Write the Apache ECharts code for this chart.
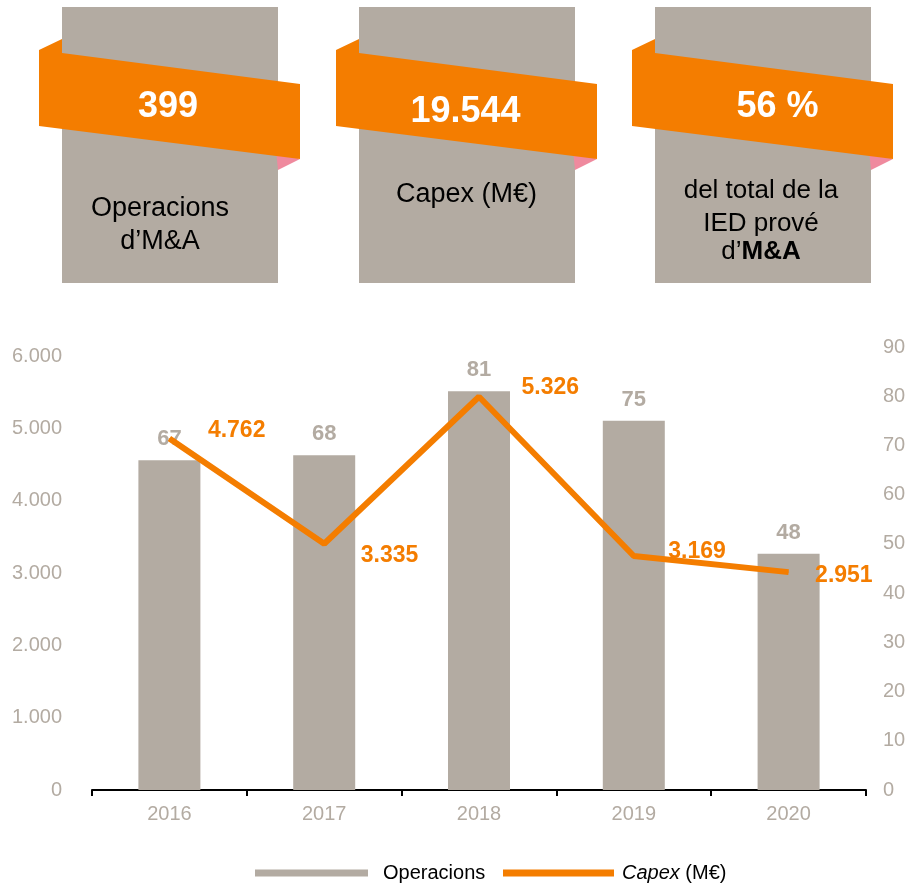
<!DOCTYPE html>
<html>
<head>
<meta charset="utf-8">
<script src="https://cdn.jsdelivr.net/npm/echarts@6/dist/echarts.min.js"></script>
<style>
  html, body { margin: 0; padding: 0; background: #fff; }
  #chart { width: 910px; height: 888px; }
</style>
</head>
<body>
<div id="chart"></div>
<script>
const years = ['2016', '2017', '2018', '2019', '2020'];
const operacions = [67, 68, 81, 75, 48];
const capex = [4762, 3335, 5326, 3169, 2951];
const kpiValues = ['399', '19.544', '56 %'];

// label nudges for the capex values [dx, dy]
const capexLabelOffsets = [[38, -8], [36, 12], [42, -9], [34, -4], [26, 4]];

const GRAY = '#B3ABA2';
const ORANGE = '#F47D00';
const PINK = '#EF8A9E';
const FONT = 'Liberation Sans, Arial, sans-serif';

const fmt = n => String(n).replace(/\B(?=(\d{3})+(?!\d))/g, '.');

// top boxes
const boxLefts = [62, 359, 655];
const kpiPos = [[168, 107], [465.5, 112], [777.5, 107]];
const graphics = [];
boxLefts.forEach((L, i) => {
    graphics.push({ type: 'rect', shape: { x: L, y: 7, width: 216, height: 276 }, style: { fill: GRAY } });
    graphics.push({ type: 'polygon', shape: { points: [[L + 214, 150], [L + 238, 159], [L + 216, 170]] }, style: { fill: PINK } });
    graphics.push({ type: 'polygon', shape: { points: [[L - 23, 50], [L, 39], [L, 53], [L + 238, 84], [L + 238, 159], [L - 23, 126]] }, style: { fill: ORANGE } });
    graphics.push({ type: 'text', x: kpiPos[i][0], y: kpiPos[i][1], style: {
        text: kpiValues[i], fill: '#fff', font: 'bold 36px ' + FONT,
        align: 'center', verticalAlign: 'middle' } });
});
const txt = (text, x, y, size) => ({ type: 'text', x: x, y: y, style: {
    text: text, fill: '#000', font: size + 'px ' + FONT, align: 'center', verticalAlign: 'middle' } });
graphics.push(txt('Operacions', 160, 208.5, 27));
graphics.push(txt('d’M&A', 160, 242, 27));
graphics.push(txt('Capex (M€)', 466.5, 195, 27));
graphics.push(txt('del total de la', 761, 190.5, 26));
graphics.push(txt('IED prové', 761, 224, 26));
graphics.push({ type: 'text', x: 761, y: 252, style: {
    text: '{n|d’}{b|M&A}', align: 'center', verticalAlign: 'middle',
    rich: {
        n: { fontSize: 26, fontFamily: FONT, fill: '#000' },
        b: { fontSize: 26, fontFamily: FONT, fontWeight: 'bold', fill: '#000' }
    } } });

const chart = echarts.init(document.getElementById('chart'));
chart.setOption({
    animation: false,
    textStyle: { fontFamily: FONT },
    graphic: graphics,
    grid: { left: 92, right: 44, top: 347, bottom: 98 },
    legend: [
        { data: ['Operacions'], left: 255, top: 863, padding: 0, icon: 'rect',
          itemWidth: 113, itemHeight: 7,
          textStyle: { color: '#000', fontSize: 20, fontFamily: FONT, padding: [0, 0, 0, 10] } },
        { data: ['Capex (M€)'], left: 503, top: 863, padding: 0, icon: 'rect',
          itemWidth: 111, itemHeight: 7,
          formatter: () => '{i|Capex} (M€)',
          textStyle: { color: '#000', fontSize: 20, fontFamily: FONT, padding: [0, 0, 0, 3],
              rich: { i: { fontStyle: 'italic', fontSize: 20, fontFamily: FONT, color: '#000' } } } }
    ],
    xAxis: {
        type: 'category', data: years,
        axisLine: { lineStyle: { color: '#000', width: 2 } },
        axisTick: { show: true, length: 6, lineStyle: { color: '#000', width: 2 } },
        axisLabel: { color: GRAY, fontSize: 20, margin: 14 }
    },
    yAxis: [
        { type: 'value', min: 0, max: 6127, interval: 1000, position: 'left',
          splitLine: { show: false }, axisLine: { show: false }, axisTick: { show: false },
          axisLabel: { color: GRAY, fontSize: 20, margin: 30,
              formatter: v => (v % 1000 === 0 ? fmt(v) : '') } },
        { type: 'value', min: 0, max: 90, interval: 10, position: 'right',
          splitLine: { show: false }, axisLine: { show: false }, axisTick: { show: false },
          axisLabel: { color: GRAY, fontSize: 20, margin: 17 } },
        { type: 'value', min: 0, max: 6000, show: false, splitLine: { show: false } }
    ],
    series: [
        { name: 'Operacions', type: 'bar', yAxisIndex: 1, data: operacions,
          barWidth: 62, itemStyle: { color: GRAY },
          label: { show: true, position: 'top', distance: 10, color: GRAY,
              fontSize: 22, fontWeight: 'bold' } },
        { name: 'Capex (M€)', type: 'line', yAxisIndex: 2,
          data: capex.map((v, i) => ({ value: v, label: { offset: capexLabelOffsets[i] } })),
          symbol: 'circle', symbolSize: 1, showSymbol: true,
          itemStyle: { color: ORANGE },
          lineStyle: { color: ORANGE, width: 6 },
          label: { show: true, position: 'right', distance: 0, color: ORANGE,
              fontSize: 23, fontWeight: 'bold', formatter: p => fmt(p.value) } }
    ]
});
</script>
</body>
</html>
